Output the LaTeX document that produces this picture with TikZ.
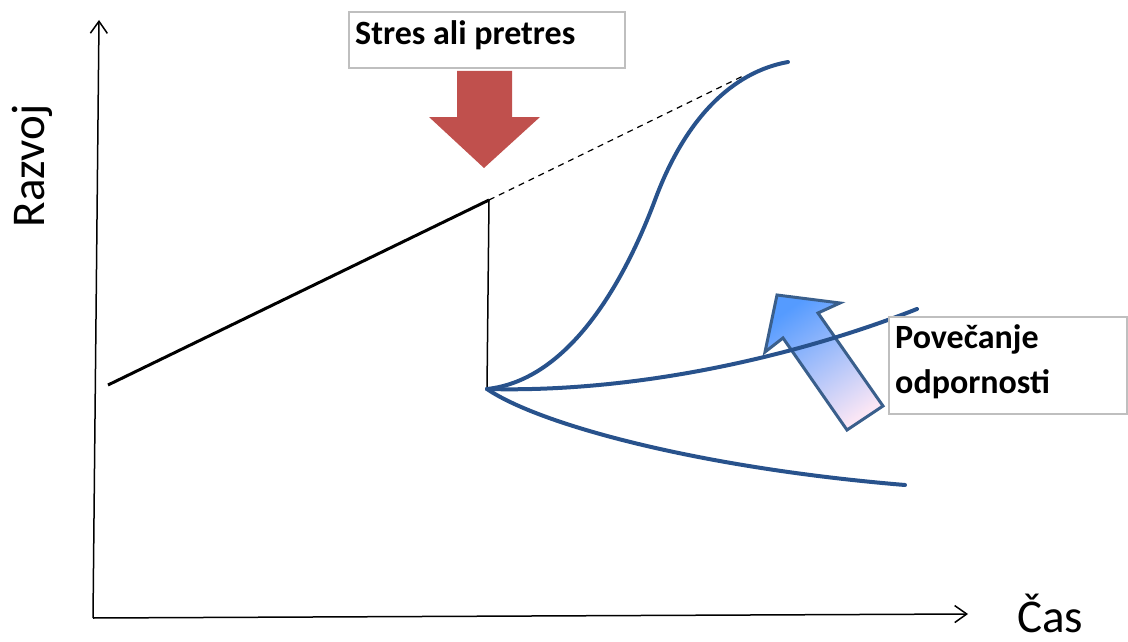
\documentclass[tikz,border=0pt]{standalone}
\usepackage{fontspec}
\setmainfont{Carlito}
\usetikzlibrary{arrows.meta}
\definecolor{curveblue}{RGB}{40,82,140}
\definecolor{stressred}{RGB}{192,80,77}
\definecolor{boxgray}{RGB}{191,191,191}
\definecolor{arrtop}{RGB}{85,155,255}
\definecolor{arrbot}{RGB}{250,230,245}
\definecolor{arrline}{RGB}{58,95,140}
\tikzset{
  axis/.style={line width=1.5pt,-{Straight Barb[length=12pt,width=17pt,line width=1.5pt]}},
  curve/.style={curveblue,line width=4pt,line cap=round,line join=round},
  labelbox/.style={draw=boxgray,line width=1.5pt,fill=white},
  boxtext/.style={font=\fontsize{34}{40}\selectfont\bfseries,inner sep=0pt},
  axislabel/.style={font=\fontsize{47}{56}\selectfont,inner sep=0pt}
}
\begin{document}
\begin{tikzpicture}[x=1pt,y=-1pt]
\useasboundingbox (0,0) rectangle (1128,642);
% axes
\coordinate (orig) at (93,618);
\coordinate (ytop) at (99,20);
\coordinate (xend) at (968,614);
\draw[axis] (orig) -- (ytop);
\draw[axis] (orig) -- (xend);
\node[axislabel,rotate=90,anchor=base] (razvoj) at (45,166) {Razvoj};
\node[axislabel,anchor=base west] (cas) at (1017,632) {Čas};
% development line
\coordinate (start) at (108,385);
\coordinate (stress) at (489,200);
\coordinate (dashend) at (743,76);
\coordinate (bif) at (487,389);
\coordinate (inflect) at (655,200);
\coordinate (sEnd) at (788,62);
\coordinate (mEnd) at (917,309);
\coordinate (lEnd) at (905,485);
\draw[line width=3pt] (start) -- (stress);
\draw[line width=1.2pt,dash pattern=on 6pt off 5pt] (stress) -- (dashend);
\draw[line width=1.5pt] (stress) -- (bif);
% blue arrow (resilience)
\draw[arrline,line width=3pt,line join=miter,top color=arrtop,bottom color=arrbot,shading angle=35]
  (777,295) -- (840,303) -- (818,313) -- (883,406) -- (847,430) -- (783,338) -- (765,352) -- cycle;
% curves
\draw[curve] (bif) .. controls (570,380) and (625,280) .. (inflect)
                   .. controls (685,119) and (732,72) .. (sEnd);
\draw[curve] (bif) .. controls (640,393) and (800,355) .. (mEnd);
\draw[curve] (bif) .. controls (540,425) and (700,468) .. (lEnd);
% stress box and arrow
\draw[labelbox] (349,12) rectangle (625,68);
\node[boxtext,anchor=base west] (stres) at (355,45) {Stres ali pretres};
\fill[stressred] (457,71) -- (512,71) -- (512,117) -- (540,117) -- (484,168) -- (429,117) -- (457,117) -- cycle;
% resilience box
\draw[labelbox] (889,317) rectangle (1127,414);
\node[boxtext,anchor=base west] (pov) at (895,348) {Povečanje};
\node[boxtext,anchor=base west] (odp) at (895,393) {odpornosti};
\end{tikzpicture}
\end{document}
